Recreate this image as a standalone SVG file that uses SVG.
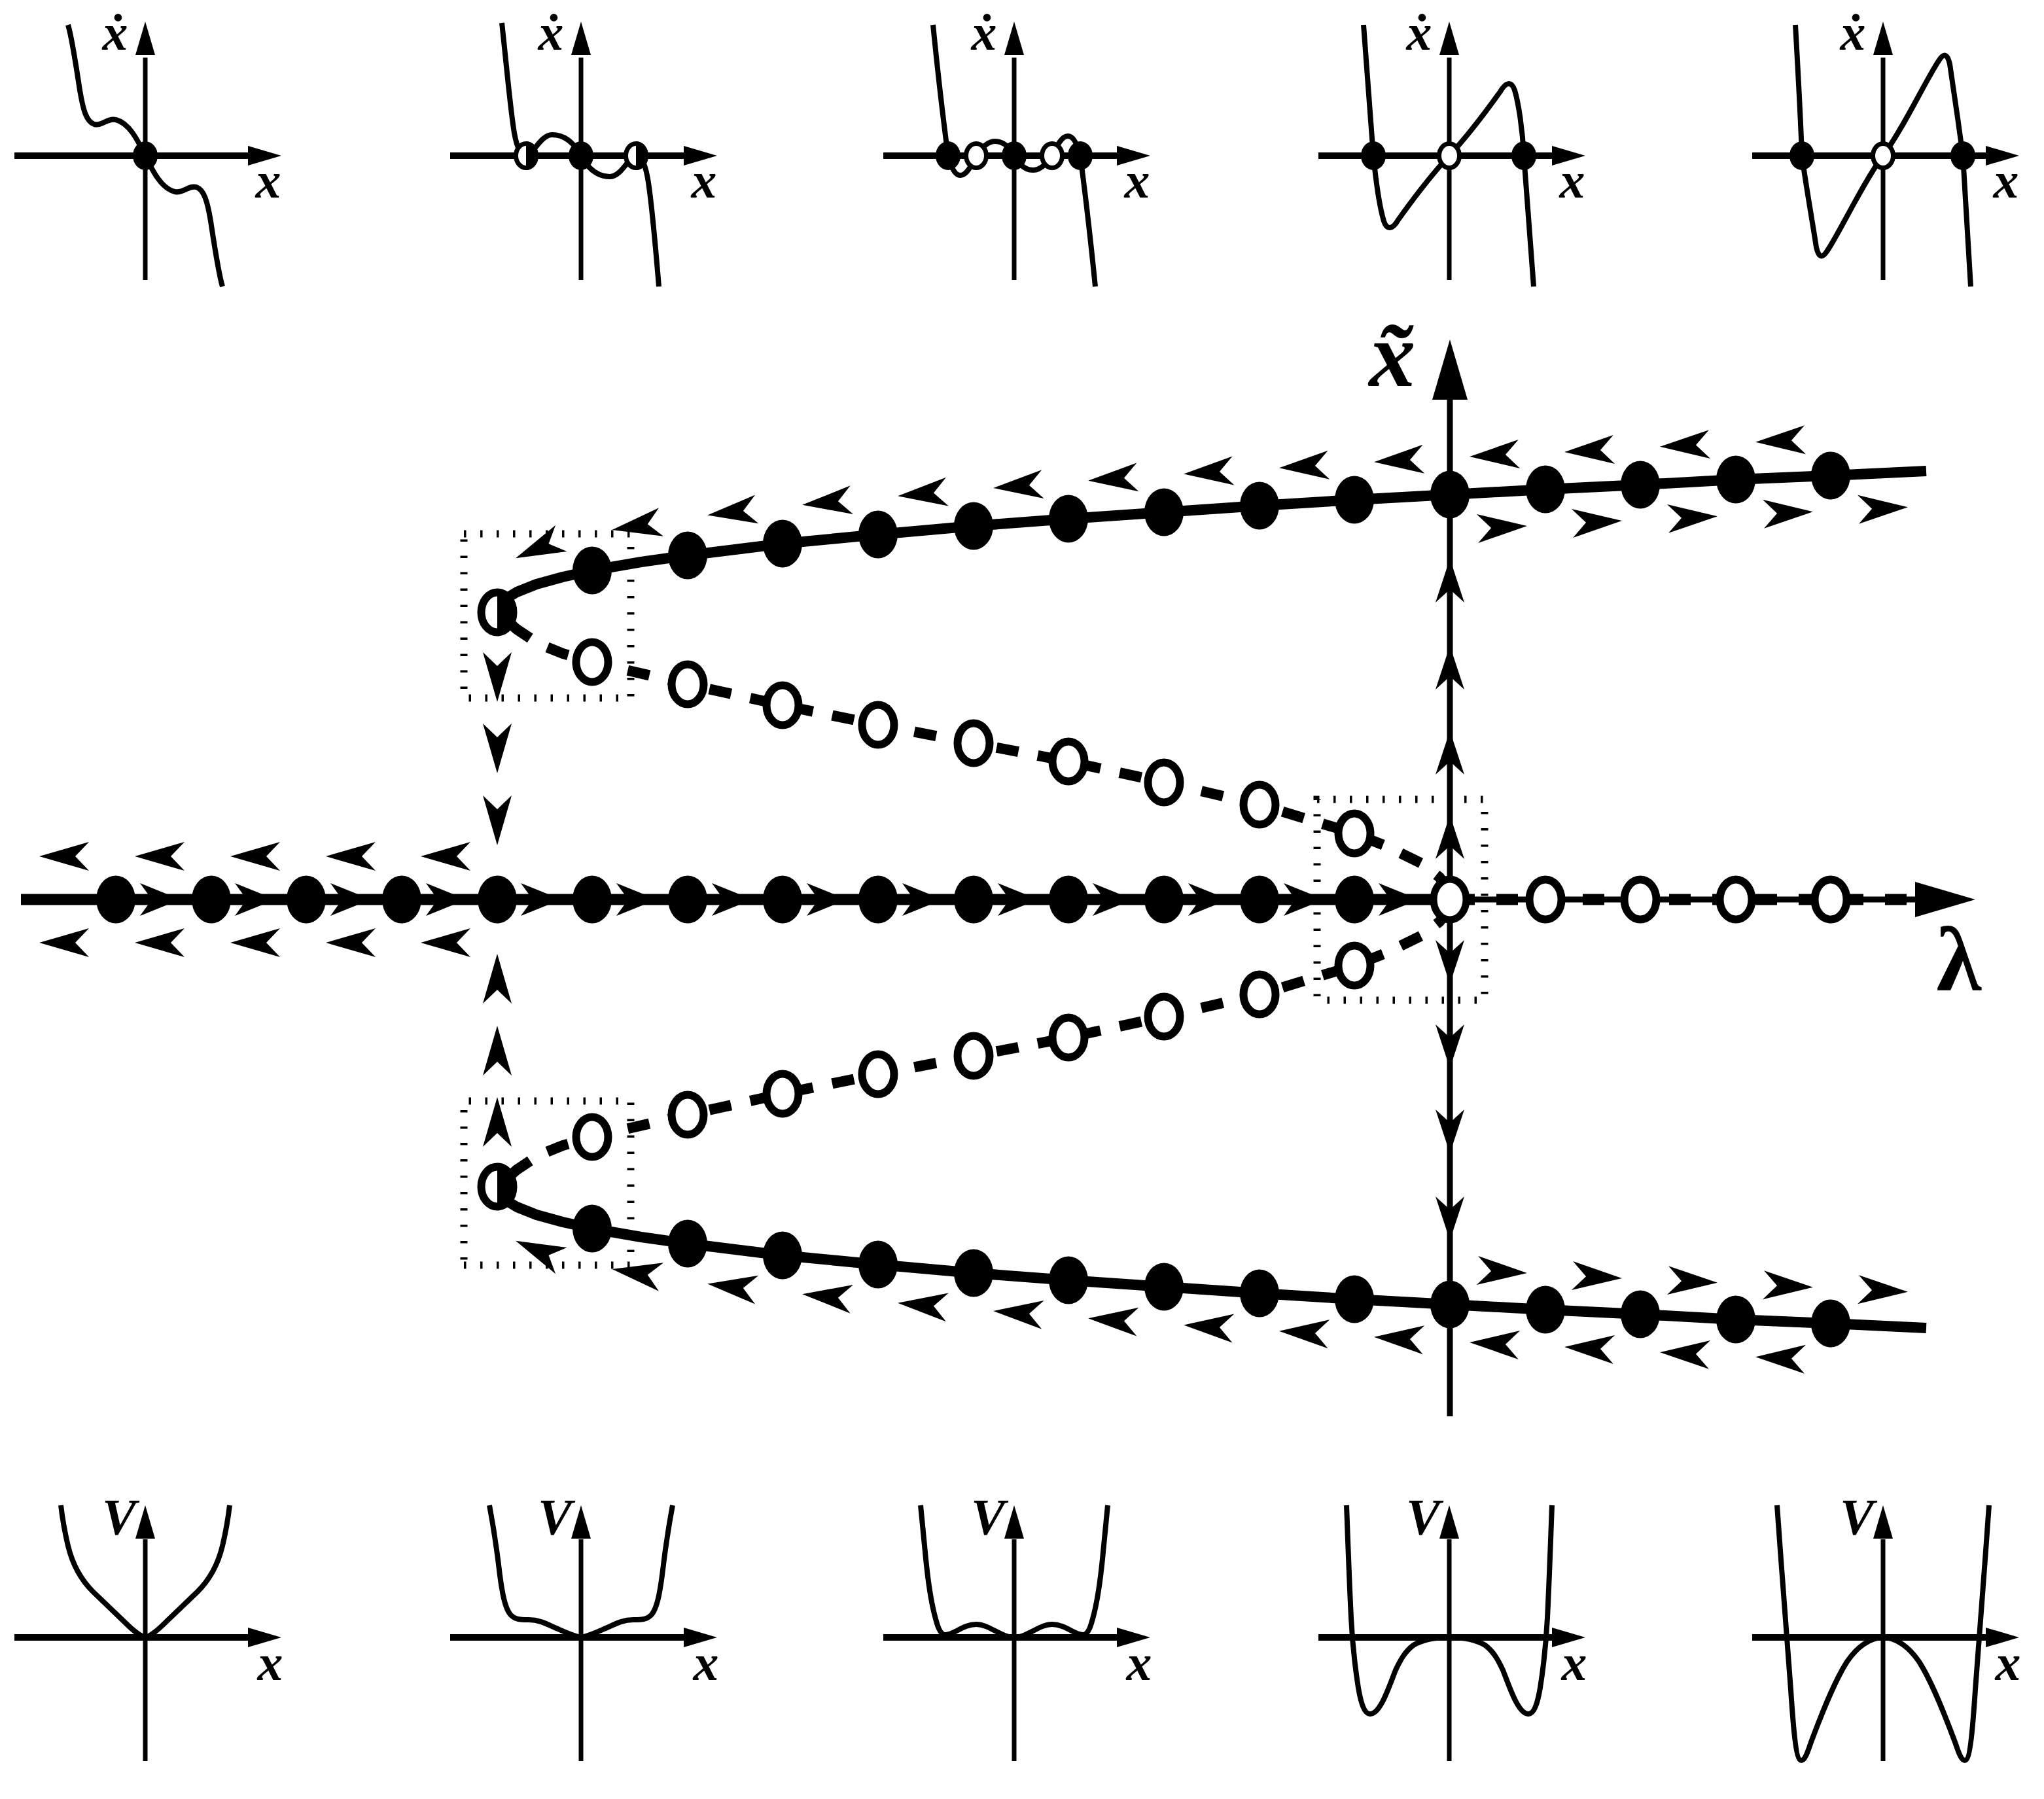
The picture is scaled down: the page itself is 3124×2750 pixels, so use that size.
<svg xmlns="http://www.w3.org/2000/svg" width="3124" height="2750" viewBox="0 0 3124 2750">
<style>
.ln{fill:none;stroke:#000}
.hax{stroke:#000;stroke-width:10}
.vax{stroke:#000;stroke-width:7}
.crv{fill:none;stroke:#000;stroke-width:8}
.lbl{font-family:"Liberation Serif","DejaVu Serif",serif;font-style:italic;font-weight:bold;font-size:78px;text-anchor:middle}
.big{font-family:"Liberation Serif","DejaVu Serif",serif;font-weight:bold;text-anchor:middle}
.dotr{fill:none;stroke:#000;stroke-width:11;stroke-dasharray:3.5 21.5}
</style>
<defs>
 <path id="arr" d="M38,0 L-38,-22 L-17,0 L-38,22 Z"/>
 <path id="arrS" d="M31,0 L-31,-25 L-13,0 L-31,25 Z"/>
 <path id="arrV" d="M34,0 L-33,-22 L-13,0 L-33,22 Z"/>
 <path id="sah" d="M0,0 L-51,-15 L-51,15 Z"/>
 <path id="mah" d="M0,0 L-92,-27 L-92,27 Z"/>
 <ellipse id="fd" rx="30" ry="36.5"/>
 <ellipse id="od" rx="24.5" ry="30.5" fill="#fff" stroke="#000" stroke-width="12"/>
 <g id="hf"><ellipse rx="24.5" ry="30.5" fill="#fff" stroke="#000" stroke-width="12"/><path d="M0,-36 A30,36 0 0 1 0,36 Z"/></g>
 <ellipse id="sf" rx="19" ry="22"/>
 <ellipse id="so" rx="15.5" ry="18.5" fill="#fff" stroke="#000" stroke-width="7"/>
 <g id="sh"><ellipse rx="15.5" ry="18.5" fill="#fff" stroke="#000" stroke-width="7"/><path d="M0,-22 A19,22 0 0 1 0,22 Z"/></g>
</defs>
<rect width="3124" height="2750" fill="#fff"/>

<!-- top row: xdot vs x -->
<g id="top1" transform="translate(222,238)">
 <line class="hax" x1="-200" y1="0" x2="160" y2="0"/><use href="#sah" transform="translate(208,0)"/>
 <line class="vax" x1="0" y1="190" x2="0" y2="-150"/><use href="#sah" transform="translate(0,-205) rotate(-90)"/>
 <path class="crv" d="M-118,-200 C-112,-180 -106,-140 -100,-100 C-95,-70 -90,-52 -78,-48 C-66,-45 -58,-58 -45,-55 C-25,-50 -12,-25 0,0 C12,25 25,50 45,55 C58,58 66,45 78,48 C90,52 95,70 100,100 C106,140 112,180 118,200"/>
 <use href="#sf"/>
 <text class="lbl" x="-46" y="-162">ẋ</text><text class="lbl" x="188" y="64">x</text>
</g>
<g id="top2" transform="translate(888,238)">
 <line class="hax" x1="-200" y1="0" x2="160" y2="0"/><use href="#sah" transform="translate(208,0)"/>
 <line class="vax" x1="0" y1="190" x2="0" y2="-150"/><use href="#sah" transform="translate(0,-205) rotate(-90)"/>
 <path class="crv" d="M-121,-203 C-114,-140 -108,-70 -102,-35 C-98,-12 -92,0 -84,0 C-74,0 -62,-32 -44,-32 C-26,-32 -12,-22 0,0 C12,22 26,32 44,32 C62,32 74,0 84,0 C92,0 98,12 102,35 C108,70 114,140 119,200"/>
 <use href="#sh" x="-84"/><use href="#sf"/><use href="#sh" x="84"/>
 <text class="lbl" x="-46" y="-162">ẋ</text><text class="lbl" x="188" y="64">x</text>
</g>
<g id="top3" transform="translate(1550,238)">
 <line class="hax" x1="-200" y1="0" x2="160" y2="0"/><use href="#sah" transform="translate(208,0)"/>
 <line class="vax" x1="0" y1="190" x2="0" y2="-150"/><use href="#sah" transform="translate(0,-205) rotate(-90)"/>
 <path class="crv" d="M-124,-200 C-116,-120 -105,-30 -101,0 C-98,12 -92,30 -82,30 C-72,30 -64,12 -58,0 C-50,-12 -40,-22 -29,-22 C-18,-22 -8,-15 0,0 C8,15 18,22 29,22 C40,22 50,12 58,0 C64,-12 72,-30 82,-30 C92,-30 98,-12 101,0 C105,30 116,120 124,200"/>
 <use href="#sf" x="-101"/><use href="#so" x="-58"/><use href="#sf"/><use href="#so" x="58"/><use href="#sf" x="101"/>
 <text class="lbl" x="-46" y="-162">ẋ</text><text class="lbl" x="188" y="64">x</text>
</g>
<g id="top4" transform="translate(2215,238)">
 <line class="hax" x1="-200" y1="0" x2="160" y2="0"/><use href="#sah" transform="translate(208,0)"/>
 <line class="vax" x1="0" y1="190" x2="0" y2="-150"/><use href="#sah" transform="translate(0,-205) rotate(-90)"/>
 <path class="crv" d="M-131,-200 C-126,-130 -120,-60 -116,0 C-112,40 -106,80 -100,100 C-95,115 -86,112 -78,98 C-58,70 -28,30 0,0 C28,-30 58,-70 78,-98 C86,-112 95,-115 100,-100 C106,-80 112,-40 114,0 C118,60 124,130 129,200"/>
 <use href="#sf" x="-116"/><use href="#so"/><use href="#sf" x="114"/>
 <text class="lbl" x="-46" y="-162">ẋ</text><text class="lbl" x="188" y="64">x</text>
</g>
<g id="top5" transform="translate(2878,238)">
 <line class="hax" x1="-200" y1="0" x2="160" y2="0"/><use href="#sah" transform="translate(208,0)"/>
 <line class="vax" x1="0" y1="190" x2="0" y2="-150"/><use href="#sah" transform="translate(0,-205) rotate(-90)"/>
 <path class="crv" d="M-134,-200 C-130,-130 -126,-60 -124,0 C-118,45 -108,100 -102,140 C-98,158 -92,156 -85,145 C-65,115 -30,40 0,0 C30,-40 65,-115 85,-145 C92,-156 98,-158 102,-140 C108,-100 116,-45 122,0 C126,60 130,130 134,200"/>
 <use href="#sf" x="-124"/><use href="#so"/><use href="#sf" x="122"/>
 <text class="lbl" x="-46" y="-162">ẋ</text><text class="lbl" x="188" y="64">x</text>
</g>

<!-- bottom row: V vs x -->
<g id="bot1" transform="translate(222,2503)">
 <line class="hax" x1="-200" y1="0" x2="160" y2="0"/><use href="#sah" transform="translate(208,0)"/>
 <line class="vax" x1="0" y1="189" x2="0" y2="-150"/><use href="#sah" transform="translate(0,-202) rotate(-90)"/>
 <path class="crv" d="M-129,-202 C-127,-185 -124,-165 -118,-140 C-112,-115 -100,-90 -80,-70 L-30,-22 C-20,-12 -10,-3 0,0 C10,-3 20,-12 30,-22 L80,-70 C100,-90 112,-115 118,-140 C124,-165 127,-185 129,-202"/>
 <text class="lbl" x="-40" y="-158">V</text><text class="lbl" x="191" y="65">x</text>
</g>
<g id="bot2" transform="translate(888,2503)">
 <line class="hax" x1="-200" y1="0" x2="160" y2="0"/><use href="#sah" transform="translate(208,0)"/>
 <line class="vax" x1="0" y1="189" x2="0" y2="-150"/><use href="#sah" transform="translate(0,-202) rotate(-90)"/>
 <path class="crv" d="M-140,-202 C-134,-170 -128,-130 -124,-95 C-120,-65 -116,-45 -108,-35 C-102,-28 -95,-27 -80,-27 C-65,-27 -55,-22 -40,-15 C-28,-10 -15,-3 0,0 C15,-3 28,-10 40,-15 C55,-22 65,-27 80,-27 C95,-27 102,-28 108,-35 C116,-45 120,-65 124,-95 C128,-130 134,-170 140,-202"/>
 <text class="lbl" x="-40" y="-158">V</text><text class="lbl" x="191" y="65">x</text>
</g>
<g id="bot3" transform="translate(1550,2503)">
 <line class="hax" x1="-200" y1="0" x2="160" y2="0"/><use href="#sah" transform="translate(208,0)"/>
 <line class="vax" x1="0" y1="189" x2="0" y2="-150"/><use href="#sah" transform="translate(0,-202) rotate(-90)"/>
 <path class="crv" d="M-143,-202 C-141,-180 -138,-150 -135,-120 C-132,-90 -128,-60 -122,-36 C-118,-20 -114,-4 -105,-4 C-92,-4 -78,-20 -58,-20 C-38,-20 -20,0 0,0 C20,0 38,-20 58,-20 C78,-20 92,-4 105,-4 C114,-4 118,-20 122,-36 C128,-60 132,-90 135,-120 C138,-150 141,-180 143,-202"/>
 <text class="lbl" x="-40" y="-158">V</text><text class="lbl" x="191" y="65">x</text>
</g>
<g id="bot4" transform="translate(2215,2503)">
 <line class="hax" x1="-200" y1="0" x2="160" y2="0"/><use href="#sah" transform="translate(208,0)"/>
 <line class="vax" x1="0" y1="189" x2="0" y2="-150"/><use href="#sah" transform="translate(0,-202) rotate(-90)"/>
 <path class="crv" d="M-157,-202 C-155,-150 -153,-90 -150,-30 C-148,10 -144,45 -139,77 C-135,100 -130,117 -121,117 C-105,117 -92,75 -82,50 C-75,35 -68,22 -55,12 C-40,3 -20,0 0,0 C20,0 40,3 55,12 C68,22 75,35 82,50 C92,75 105,117 121,117 C130,117 135,100 139,77 C144,45 148,10 150,-30 C153,-90 155,-150 157,-202"/>
 <text class="lbl" x="-40" y="-158">V</text><text class="lbl" x="191" y="65">x</text>
</g>
<g id="bot5" transform="translate(2878,2503)">
 <line class="hax" x1="-200" y1="0" x2="160" y2="0"/><use href="#sah" transform="translate(208,0)"/>
 <line class="vax" x1="0" y1="189" x2="0" y2="-150"/><use href="#sah" transform="translate(0,-202) rotate(-90)"/>
 <path class="crv" d="M-162,-202 C-155,-100 -145,20 -141,80 C-137,140 -133,188 -125,188 C-120,188 -116,178 -110,160 C-95,120 -75,68 -55,37 C-40,15 -20,0 0,0 C20,0 40,15 55,37 C75,68 95,120 110,160 C116,178 120,188 125,188 C133,188 137,140 141,80 C145,20 155,-100 162,-202"/>
 <text class="lbl" x="-40" y="-158">V</text><text class="lbl" x="191" y="65">x</text>
</g>

<!-- main diagram -->
<g id="xtilde-axis">
 <line class="ln" x1="2216" y1="605" x2="2216" y2="2165" stroke-width="9"/>
 <use href="#mah" transform="translate(2216,519) rotate(-90)"/>
 <text class="big" x="2128" y="590" font-size="142" font-style="italic">x̃</text>
</g>

<g id="upper-half">
 <rect class="dotr" x="709" y="816" width="255" height="251"/>
 <path class="ln" stroke-width="16" stroke-linejoin="round" d="M760,936 L770,917 L790,905 L820,893 L860,882 L905,872 L980,859 L1051,849 L1196,831 L1342,817 L1488,804 L1633,793 L1779,783 L1925,773 L2070,764 L2216,756 L2362,748 L2507,741 L2653,733 L2798,727 L2944,720"/>
 <path class="ln" stroke-width="16" stroke-dasharray="34 30" stroke-dashoffset="-30" d="M760,936 L790,962 L823,984 L860,999 L905,1012 L1051,1046 L1196,1078 L1342,1108 L1488,1136 L1633,1164 L1779,1196 L1925,1230 L2070,1274 L2120,1294 L2173,1320 L2200,1341 L2210,1354 L2216,1375"/>
 <g id="fold-arrows">
  <use href="#arr" transform="translate(760,1035) rotate(90)"/>
  <use href="#arr" transform="translate(760,1144) rotate(90)"/>
  <use href="#arr" transform="translate(760,1254) rotate(90)"/>
 </g>
 <g id="axis-up-arrows">
  <use href="#arrV" transform="translate(2216,888) rotate(-90)"/>
  <use href="#arrV" transform="translate(2216,1021) rotate(-90)"/>
  <use href="#arrV" transform="translate(2216,1151) rotate(-90)"/>
  <use href="#arrV" transform="translate(2216,1280) rotate(-90)"/>
 </g>
 <g id="left-arrows-above">
  <use href="#arr" transform="translate(98,1309) rotate(180)"/>
  <use href="#arr" transform="translate(244,1309) rotate(180)"/>
  <use href="#arr" transform="translate(390,1309) rotate(180)"/>
  <use href="#arr" transform="translate(536,1309) rotate(180)"/>
  <use href="#arr" transform="translate(681,1309) rotate(180)"/>
 </g>
 <g id="branch-arrows">
  <use href="#arr" transform="translate(823,838) rotate(156.5)"/>
  <use href="#arr" transform="translate(973,804) rotate(170.9)"/>
  <use href="#arr" transform="translate(1119,783) rotate(173.1)"/>
  <use href="#arr" transform="translate(1264,768) rotate(174.3)"/>
  <use href="#arr" transform="translate(1410,755) rotate(175)"/>
  <use href="#arr" transform="translate(1556,743) rotate(175.6)"/>
  <use href="#arr" transform="translate(1701,732) rotate(176)"/>
  <use href="#arr" transform="translate(1847,722) rotate(176.3)"/>
  <use href="#arr" transform="translate(1993,713) rotate(176.5)"/>
  <use href="#arr" transform="translate(2138,704) rotate(176.7)"/>
  <use href="#arr" transform="translate(2284,696) rotate(176.9)"/>
  <use href="#arr" transform="translate(2429,689) rotate(177)"/>
  <use href="#arr" transform="translate(2575,681) rotate(177.2)"/>
  <use href="#arr" transform="translate(2721,674) rotate(177.3)"/>
  <use href="#arr" transform="translate(2296,806) rotate(-3.1)"/>
  <use href="#arr" transform="translate(2441,798) rotate(-2.95)"/>
  <use href="#arr" transform="translate(2587,791) rotate(-2.8)"/>
  <use href="#arr" transform="translate(2733,784) rotate(-2.7)"/>
  <use href="#arr" transform="translate(2878,777) rotate(-2.6)"/>
 </g>
 <g id="stable-points">
  <use href="#fd" x="905" y="872"/><use href="#fd" x="1051" y="849"/><use href="#fd" x="1196" y="831"/>
  <use href="#fd" x="1342" y="817"/><use href="#fd" x="1488" y="804"/><use href="#fd" x="1633" y="793"/>
  <use href="#fd" x="1779" y="783"/><use href="#fd" x="1925" y="773"/><use href="#fd" x="2070" y="764"/>
  <use href="#fd" x="2216" y="756"/><use href="#fd" x="2362" y="748"/><use href="#fd" x="2507" y="741"/>
  <use href="#fd" x="2653" y="733"/><use href="#fd" x="2798" y="727"/>
 </g>
 <g id="unstable-points">
  <use href="#od" x="905" y="1012"/><use href="#od" x="1051" y="1046"/><use href="#od" x="1196" y="1078"/>
  <use href="#od" x="1342" y="1108"/><use href="#od" x="1488" y="1136"/><use href="#od" x="1633" y="1164"/>
  <use href="#od" x="1779" y="1196"/><use href="#od" x="1925" y="1230"/><use href="#od" x="2070" y="1274"/>
 </g>
 <use id="fold-point" href="#hf" x="760" y="936"/>
</g>
<use id="lower-half" href="#upper-half" transform="matrix(1,0,0,-1,0,2750)"/>

<g id="lambda-axis">
 <rect class="dotr" x="2013" y="1222" width="256" height="307"/>
 <line class="ln" x1="32" y1="1375" x2="2216" y2="1375" stroke-width="17"/>
 <line class="ln" x1="2216" y1="1375" x2="2930" y2="1375" stroke-width="9"/>
 <line class="ln" x1="2221" y1="1375" x2="2927" y2="1375" stroke-width="17" stroke-dasharray="33 33"/>
 <use href="#mah" transform="translate(3019,1375)"/>
 <g id="axis-arrows">
  <use href="#arrS" transform="translate(245,1375)"/><use href="#arrS" transform="translate(390,1375)"/>
  <use href="#arrS" transform="translate(536,1375)"/><use href="#arrS" transform="translate(682,1375)"/>
  <use href="#arrS" transform="translate(827,1375)"/><use href="#arrS" transform="translate(973,1375)"/>
  <use href="#arrS" transform="translate(1119,1375)"/><use href="#arrS" transform="translate(1264,1375)"/>
  <use href="#arrS" transform="translate(1410,1375)"/><use href="#arrS" transform="translate(1556,1375)"/>
  <use href="#arrS" transform="translate(1701,1375)"/><use href="#arrS" transform="translate(1847,1375)"/>
  <use href="#arrS" transform="translate(1993,1375)"/><use href="#arrS" transform="translate(2138,1375)"/>
 </g>
 <g id="axis-points">
  <use href="#fd" x="177" y="1375"/><use href="#fd" x="323" y="1375"/><use href="#fd" x="468" y="1375"/>
  <use href="#fd" x="614" y="1375"/><use href="#fd" x="760" y="1375"/><use href="#fd" x="905" y="1375"/>
  <use href="#fd" x="1051" y="1375"/><use href="#fd" x="1196" y="1375"/><use href="#fd" x="1342" y="1375"/>
  <use href="#fd" x="1488" y="1375"/><use href="#fd" x="1633" y="1375"/><use href="#fd" x="1779" y="1375"/>
  <use href="#fd" x="1925" y="1375"/><use href="#fd" x="2070" y="1375"/>
  <ellipse cx="2216" cy="1375" rx="25" ry="31" fill="#fff" stroke="#000" stroke-width="11"/>
  <use href="#od" x="2362" y="1375"/><use href="#od" x="2507" y="1375"/>
  <use href="#od" x="2653" y="1375"/><use href="#od" x="2798" y="1375"/>
 </g>
 <text class="big" x="2994" y="1513" font-size="140">λ</text>
</g>
</svg>
